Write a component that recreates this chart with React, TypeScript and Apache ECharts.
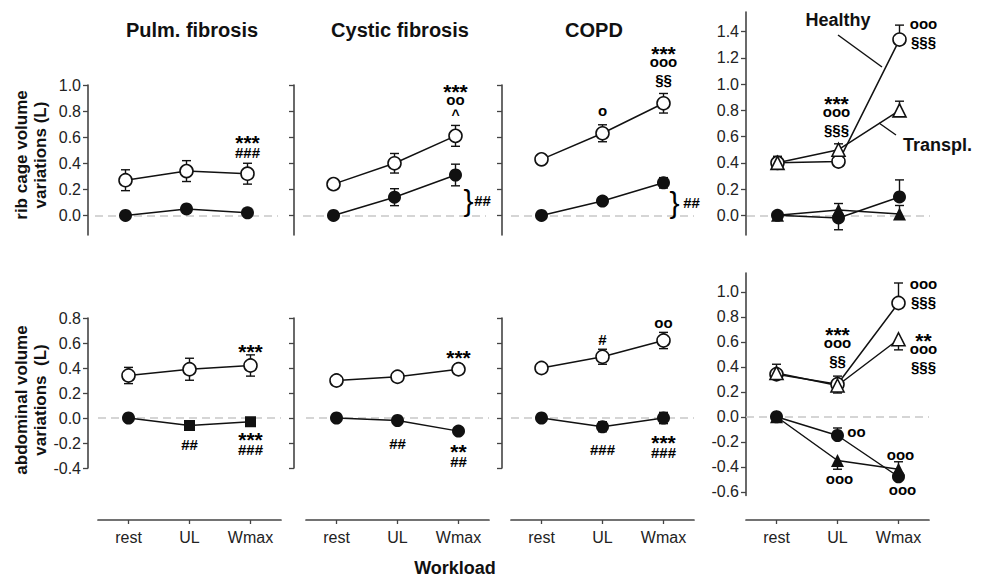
import React, { useEffect, useRef } from "react";
import * as echarts from "echarts";

// ---------- data ----------
const categories = ["rest", "UL", "Wmax"];
const panelTitles = ["Pulm. fibrosis", "Cystic fibrosis", "COPD"];
const ribTicks = [0, 0.2, 0.4, 0.6, 0.8, 1.0];
const ribTicksWide = [0, 0.2, 0.4, 0.6, 0.8, 1.0, 1.2, 1.4];
const abTicks = [-0.4, -0.2, 0, 0.2, 0.4, 0.6, 0.8];
const abTicksWide = [-0.6, -0.4, -0.2, 0, 0.2, 0.4, 0.6, 0.8, 1.0];

// rib cage volume variations (L)
const pulmRibOpen = [0.27, 0.34, 0.32];
const pulmRibOpenSE = [0.08, 0.08, 0.08];
const pulmRibFilled = [0.0, 0.05, 0.02];
const pulmRibFilledSE = [0.0, 0.03, 0.025];
const cfRibOpen = [0.24, 0.4, 0.61];
const cfRibOpenSE = [0.0, 0.075, 0.08];
const cfRibFilled = [0.0, 0.14, 0.31];
const cfRibFilledSE = [0.0, 0.065, 0.083];
const copdRibOpen = [0.43, 0.63, 0.86];
const copdRibOpenSE = [0.025, 0.065, 0.075];
const copdRibFilled = [0.0, 0.11, 0.25];
const copdRibFilledSE = [0.0, 0.03, 0.04];
const healthyRibOpen = [0.4, 0.41, 1.34];
const healthyRibOpenLo = [0, 0, 0];
const healthyRibOpenHi = [0, 0, 0.11];
const transplRibOpen = [0.4, 0.5, 0.8];
const transplRibOpenLo = [0, 0, 0];
const transplRibOpenHi = [0.05, 0.045, 0.07];
const healthyRibFilled = [0.0, -0.02, 0.14];
const healthyRibFilledLo = [0, 0.09, 0];
const healthyRibFilledHi = [0, 0, 0.13];
const transplRibFilled = [0.0, 0.04, 0.01];
const transplRibFilledLo = [0, 0, 0];
const transplRibFilledHi = [0, 0.05, 0.065];

// abdominal volume variations (L)
const pulmAbOpen = [0.34, 0.39, 0.42];
const pulmAbOpenSE = [0.065, 0.088, 0.085];
const pulmAbFilled = [0.0, -0.06, -0.03];
const pulmAbFilledSE = [0.0, 0.015, 0.015];
const cfAbOpen = [0.3, 0.33, 0.39];
const cfAbOpenSE = [0.0, 0.035, 0.04];
const cfAbFilled = [0.0, -0.02, -0.105];
const cfAbFilledSE = [0.0, 0.015, 0.015];
const copdAbOpen = [0.4, 0.49, 0.62];
const copdAbOpenSE = [0.03, 0.06, 0.065];
const copdAbFilled = [0.0, -0.07, 0.0];
const copdAbFilledSE = [0.0, 0.04, 0.045];
const healthyAbOpen = [0.34, 0.26, 0.91];
const healthyAbOpenLo = [0, 0, 0];
const healthyAbOpenHi = [0, 0.065, 0.16];
const transplAbOpen = [0.35, 0.25, 0.62];
const transplAbOpenLo = [0, 0.06, 0.085];
const transplAbOpenHi = [0.07, 0, 0];
const healthyAbFilled = [0.0, -0.15, -0.48];
const healthyAbFilledLo = [0, 0, 0];
const healthyAbFilledHi = [0, 0.06, 0];
const transplAbFilled = [0.0, -0.35, -0.42];
const transplAbFilledLo = [0, 0.07, 0];
const transplAbFilledHi = [0, 0, 0.06];

// significance annotations: category index, value of first line, stacked lines
const pulmRibNotes = [{ cat: 2, y: 0.594, lines: ["***", "###"] }];
const cfRibNotes = [
  { cat: 2, y: 0.984, lines: ["***", "oo", "^"] },
  { cat: 2, y: 0.118, lines: ["}"], dx: 13 },
  { cat: 2, y: 0.118, lines: ["##"], dx: 27 },
];
const copdRibNotes = [
  { cat: 1, y: 0.794, lines: ["o"] },
  { cat: 2, y: 1.276, lines: ["***", "ooo", "§§"] },
  { cat: 2, y: 0.103, lines: ["}"], dx: 11 },
  { cat: 2, y: 0.103, lines: ["##"], dx: 28 },
];
const transplRibNotes = [
  { cat: 1, y: 0.886, lines: ["***", "ooo", "§§§"], dx: -2 },
  { cat: 2, y: 1.455, lines: ["ooo", "§§§"], dx: 24 },
];
const pulmAbNotes = [
  { cat: 2, y: 0.568, lines: ["***"] },
  { cat: 1, y: -0.208, lines: ["##"] },
  { cat: 2, y: -0.136, lines: ["***", "###"] },
];
const cfAbNotes = [
  { cat: 2, y: 0.52, lines: ["***"] },
  { cat: 1, y: -0.2, lines: ["##"] },
  { cat: 2, y: -0.232, lines: ["**", "##"] },
];
const copdAbNotes = [
  { cat: 1, y: 0.632, lines: ["#"] },
  { cat: 2, y: 0.752, lines: ["oo"] },
  { cat: 1, y: -0.248, lines: ["###"] },
  { cat: 2, y: -0.16, lines: ["***", "###"] },
];
const transplAbNotes = [
  { cat: 1, y: 0.694, lines: ["***", "ooo", "§§"] },
  { cat: 2, y: 1.054, lines: ["ooo", "§§§"], dx: 25 },
  { cat: 2, y: 0.646, lines: ["**", "ooo", "§§§"], dx: 25 },
  { cat: 1, y: -0.13, lines: ["oo"], dx: 19 },
  { cat: 1, y: -0.506, lines: ["ooo"], dx: 2 },
  { cat: 2, y: -0.314, lines: ["ooo"], dx: 2 },
  { cat: 2, y: -0.594, lines: ["ooo"], dx: 4 },
];

// ---------- styling ----------
const FONT = "'Liberation Sans', Arial, Helvetica, sans-serif";
const INK = "#111";
const AXIS = "#444";

// per-glyph text style: size, line height, visual centre shift of the glyph vs. its line box
const NOTE_STYLE: Record<string, { fontSize: number; lineHeight: number; off: number; weight: string }> = {
  star: { fontSize: 21, lineHeight: 5, off: -4.6, weight: "bold" },
  o: { fontSize: 15, lineHeight: 10, off: 1.4, weight: "bold" },
  sect: { fontSize: 15, lineHeight: 26, off: 1.2, weight: "bold" },
  hash: { fontSize: 15, lineHeight: 14, off: 0, weight: "bold" },
  caret: { fontSize: 14, lineHeight: 21, off: -2.2, weight: "bold" },
  brace: { fontSize: 30, lineHeight: 30, off: 0, weight: "normal" },
};
const kindOf = (t: string) =>
  t[0] === "*" ? "star" : t[0] === "o" ? "o" : t[0] === "§" ? "sect" : t[0] === "#" ? "hash" : t[0] === "^" ? "caret" : "brace";

type Group = { vals: number[]; lo: number[]; hi: number[]; open: boolean; symbol: string | string[] };

const g = (vals: number[], lo: number[], hi: number[], open: boolean, symbol: string | string[] = "circle"): Group => ({
  vals, lo, hi, open, symbol,
});

const panels: { groups: Group[]; notes: any[] }[] = [
  { groups: [g(pulmRibOpen, pulmRibOpenSE, pulmRibOpenSE, true), g(pulmRibFilled, pulmRibFilledSE, pulmRibFilledSE, false)], notes: pulmRibNotes },
  { groups: [g(cfRibOpen, cfRibOpenSE, cfRibOpenSE, true), g(cfRibFilled, cfRibFilledSE, cfRibFilledSE, false)], notes: cfRibNotes },
  { groups: [g(copdRibOpen, copdRibOpenSE, copdRibOpenSE, true), g(copdRibFilled, copdRibFilledSE, copdRibFilledSE, false)], notes: copdRibNotes },
  {
    groups: [
      g(healthyRibOpen, healthyRibOpenLo, healthyRibOpenHi, true),
      g(transplRibOpen, transplRibOpenLo, transplRibOpenHi, true, "triangle"),
      g(healthyRibFilled, healthyRibFilledLo, healthyRibFilledHi, false),
      g(transplRibFilled, transplRibFilledLo, transplRibFilledHi, false, "triangle"),
    ],
    notes: transplRibNotes,
  },
  { groups: [g(pulmAbOpen, pulmAbOpenSE, pulmAbOpenSE, true), g(pulmAbFilled, pulmAbFilledSE, pulmAbFilledSE, false, ["circle", "rect", "rect"])], notes: pulmAbNotes },
  { groups: [g(cfAbOpen, cfAbOpenSE, cfAbOpenSE, true), g(cfAbFilled, cfAbFilledSE, cfAbFilledSE, false)], notes: cfAbNotes },
  { groups: [g(copdAbOpen, copdAbOpenSE, copdAbOpenSE, true), g(copdAbFilled, copdAbFilledSE, copdAbFilledSE, false)], notes: copdAbNotes },
  {
    groups: [
      g(healthyAbOpen, healthyAbOpenLo, healthyAbOpenHi, true),
      g(transplAbOpen, transplAbOpenLo, transplAbOpenHi, true, "triangle"),
      g(healthyAbFilled, healthyAbFilledLo, healthyAbFilledHi, false),
      g(transplAbFilled, transplAbFilledLo, transplAbFilledHi, false, "triangle"),
    ],
    notes: transplAbNotes,
  },
];

// layout (pixels)
const colLeftTop = [95, 303, 511, 747];
const colLeftBot = [98, 306, 511, 746];
const yAxisX = [88, 294, 502, 746];
const COL_W = 183;
const X_AXIS_Y = 520;

function noteItem(n: any) {
  const lines: string[] = n.lines;
  const styles = lines.map((t) => NOTE_STYLE[kindOf(t)]);
  const H = styles.reduce((s, st) => s + st.lineHeight, 0);
  const dy = H / 2 - styles[0].lineHeight / 2 - styles[0].off;
  if (lines.length === 1) {
    const st = styles[0];
    return {
      value: [n.cat, n.y],
      text: lines[0],
      label: {
        offset: [n.dx || 0, dy],
        fontSize: st.fontSize,
        lineHeight: st.lineHeight,
        fontWeight: st.weight,
      },
    };
  }
  const rich: any = {};
  styles.forEach((st, k) => {
    rich["k" + k] = {
      fontSize: st.fontSize,
      lineHeight: st.lineHeight,
      fontWeight: st.weight,
      fontFamily: FONT,
      color: "#000",
      align: "center",
    };
  });
  return {
    value: [n.cat, n.y],
    text: lines.map((t, k) => "{k" + k + "|" + t + "}").join("\n"),
    label: { offset: [n.dx || 0, dy], rich },
  };
}

function buildOption() {
  const grids: any[] = [];
  const xAxes: any[] = [];
  const yAxes: any[] = [];
  const series: any[] = [];

  for (let i = 0; i < 8; i++) {
    const row = i < 4 ? 0 : 1;
    const col = i % 4;
    const wide = col === 3;
    const left = row === 0 ? colLeftTop[col] : colLeftBot[col];
    let top: number, height: number, min: number, max: number, ticks: number[];
    if (row === 0) {
      top = wide ? 12 : 85;
      height = wide ? 223 : 150;
      min = -0.15;
      max = wide ? 1.55 : 1.0;
      ticks = wide ? ribTicksWide : ribTicks;
    } else {
      top = wide ? 273 : 318;
      height = wide ? 222.5 : 150;
      min = wide ? -0.63 : -0.4;
      max = wide ? 1.15 : 0.8;
      ticks = wide ? abTicksWide : abTicks;
    }
    grids.push({ left, top, width: COL_W, height, containLabel: false, outerBoundsMode: "none" });
    xAxes.push({
      type: "category",
      gridIndex: i,
      data: categories,
      show: row === 1,
      position: "bottom",
      offset: row === 1 ? X_AXIS_Y - (top + height) : 0,
      axisLine: { show: true, onZero: false, lineStyle: { color: AXIS, width: 1.7 } },
      axisTick: { show: true, alignWithLabel: true, length: 4, lineStyle: { color: AXIS, width: 1.3 } },
      axisLabel: { show: true, fontFamily: FONT, fontSize: 16, color: "#222", margin: 9 },
      splitLine: { show: false },
    });
    const showLabels = col === 0 || col === 3;
    yAxes.push({
      type: "value",
      gridIndex: i,
      min,
      max,
      position: "left",
      offset: left - yAxisX[col],
      axisLine: { show: true, onZero: false, lineStyle: { color: AXIS, width: 1.6 } },
      axisTick: { show: true, length: 5, customValues: ticks, lineStyle: { color: AXIS, width: 1.3 } },
      axisLabel: {
        show: showLabels,
        customValues: ticks,
        fontFamily: FONT,
        fontSize: 16,
        color: "#222",
        margin: 7,
        formatter: (v: number) => v.toFixed(1),
      },
      splitLine: { show: false },
    });

    const panel = panels[i];
    // error bars
    const ebData: number[][] = [];
    panel.groups.forEach((gr) => {
      gr.vals.forEach((v, c) => {
        if (gr.lo[c] > 0 || gr.hi[c] > 0) ebData.push([c, v, gr.lo[c], gr.hi[c]]);
      });
    });
    series.push({
      type: "custom",
      xAxisIndex: i,
      yAxisIndex: i,
      z: 2,
      silent: true,
      clip: false,
      encode: { x: 0, y: 1 },
      data: ebData,
      renderItem: (params: any, api: any) => {
        const c = api.value(0);
        const v = api.value(1);
        const lo = api.value(2);
        const hi = api.value(3);
        const mid = api.coord([c, v]);
        const pt = api.coord([c, v + hi]);
        const pb = api.coord([c, v - lo]);
        const st = { stroke: INK, lineWidth: 1.4 };
        const cap = 4.5;
        const children: any[] = [
          { type: "line", shape: { x1: mid[0], y1: pt[1], x2: mid[0], y2: pb[1] }, style: st },
        ];
        if (hi > 0) children.push({ type: "line", shape: { x1: mid[0] - cap, y1: pt[1], x2: mid[0] + cap, y2: pt[1] }, style: st });
        if (lo > 0) children.push({ type: "line", shape: { x1: mid[0] - cap, y1: pb[1], x2: mid[0] + cap, y2: pb[1] }, style: st });
        return { type: "group", children };
      },
    });

    panel.groups.forEach((gr, gi) => {
      const s: any = {
        type: "line",
        xAxisIndex: i,
        yAxisIndex: i,
        z: gr.open ? 4 : 3,
        silent: true,
        clip: false,
        data: gr.vals.map((v, c) => ({
          value: v,
          symbol: Array.isArray(gr.symbol) ? gr.symbol[c] : gr.symbol,
          symbolSize: Array.isArray(gr.symbol) && gr.symbol[c] === "rect" ? 11 : 13,
        })),
        showSymbol: true,
        lineStyle: { color: INK, width: 1.5 },
        itemStyle: gr.open
          ? { color: "#fff", borderColor: INK, borderWidth: 1.6 }
          : { color: INK, borderColor: INK, borderWidth: 0 },
        emphasis: { disabled: true },
      };
      if (gi === 0) {
        s.markLine = {
          silent: true,
          z: 1,
          symbol: ["none", "none"],
          label: { show: false },
          lineStyle: { color: "#c8c8c8", width: 1.6, type: [8, 5] },
          data: [{ yAxis: 0 }],
          animation: false,
        };
      }
      series.push(s);
    });

    // annotations
    series.push({
      type: "scatter",
      xAxisIndex: i,
      yAxisIndex: i,
      z: 6,
      silent: true,
      clip: false,
      symbolSize: 1,
      itemStyle: { color: "rgba(255,255,255,0)", opacity: 1 },
      data: panel.notes.map(noteItem),
      label: {
        show: true,
        position: "inside",
        color: "#000",
        opacity: 1,
        textBorderWidth: 0,
        textBorderColor: "transparent",
        padding: 0,
        fontFamily: FONT,
        fontWeight: "bold",
        formatter: (p: any) => p.data.text,
      },
    });
  }

  const titleStyle = { fontFamily: FONT, fontWeight: "bold", fontSize: 20, fill: INK, align: "center", verticalAlign: "middle" };
  const graphic: any[] = [
    { type: "text", x: 192, y: 30, style: { ...titleStyle, text: panelTitles[0] } },
    { type: "text", x: 400, y: 30, style: { ...titleStyle, text: panelTitles[1] } },
    { type: "text", x: 594, y: 30, style: { ...titleStyle, text: panelTitles[2] } },
    { type: "text", x: 455, y: 568, style: { ...titleStyle, fontSize: 18, text: "Workload" } },
    {
      type: "text", x: 31, y: 155, rotation: Math.PI / 2,
      style: { ...titleStyle, fontSize: 17, lineHeight: 19, text: "rib cage volume\nvariations (L)" },
    },
    {
      type: "text", x: 31, y: 400, rotation: Math.PI / 2,
      style: { ...titleStyle, fontSize: 17, lineHeight: 19, text: "abdominal volume\nvariations  (L)" },
    },
    { type: "text", x: 838, y: 20, style: { ...titleStyle, fontSize: 18, text: "Healthy" } },
    { type: "text", x: 903, y: 145, style: { ...titleStyle, fontSize: 18, align: "left", text: "Transpl." } },
    { type: "line", shape: { x1: 838, y1: 35, x2: 882, y2: 67 }, style: { stroke: INK, lineWidth: 1.4 } },
    { type: "line", shape: { x1: 879, y1: 123, x2: 896, y2: 135 }, style: { stroke: INK, lineWidth: 1.4 } },
  ];

  return {
    animation: false,
    backgroundColor: "#fff",
    grid: grids,
    xAxis: xAxes,
    yAxis: yAxes,
    series,
    graphic,
  };
}

export default function App() {
  const ref = useRef<HTMLDivElement>(null);
  useEffect(() => {
    const chart = echarts.init(ref.current as HTMLDivElement, null, { renderer: "svg" });
    chart.setOption(buildOption() as any);
    return () => chart.dispose();
  }, []);
  return <div ref={ref} style={{ position: "fixed", left: 0, top: 0, width: 982, height: 581 }} />;
}
